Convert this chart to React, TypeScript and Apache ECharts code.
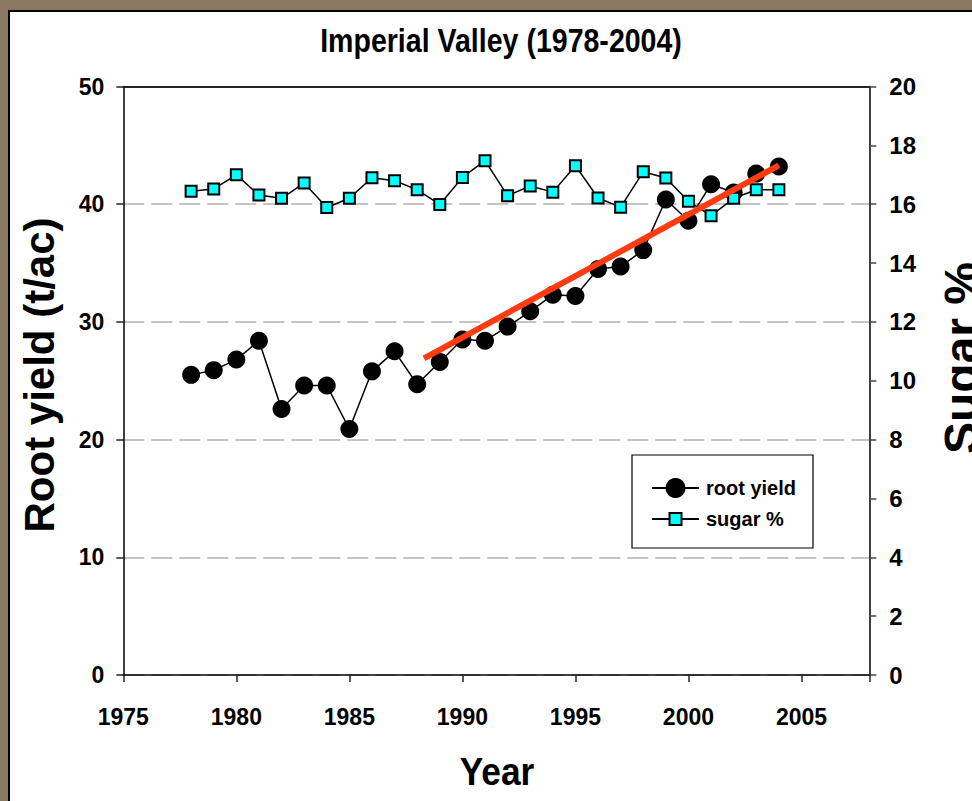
import React, { useEffect, useRef } from "react";
import * as echarts from "echarts";

const years = [1978, 1979, 1980, 1981, 1982, 1983, 1984, 1985, 1986, 1987, 1988, 1989, 1990, 1991, 1992, 1993, 1994, 1995, 1996, 1997, 1998, 1999, 2000, 2001, 2002, 2003, 2004];
const rootYield = [25.5, 25.9, 26.8, 28.4, 22.6, 24.6, 24.6, 20.9, 25.8, 27.5, 24.7, 26.6, 28.5, 28.4, 29.6, 30.9, 32.3, 32.2, 34.5, 34.7, 36.1, 40.4, 38.6, 41.7, 41.0, 42.6, 43.2];
const sugarPct = [16.44, 16.52, 17.0, 16.31, 16.2, 16.72, 15.89, 16.2, 16.9, 16.8, 16.49, 15.99, 16.91, 17.48, 16.29, 16.62, 16.41, 17.31, 16.21, 15.9, 17.1, 16.89, 16.1, 15.61, 16.2, 16.49, 16.49];
const trendYears = [1988.3, 2004];
const trendValues = [26.9, 43.3];

const titleText = "Imperial Valley (1978-2004)";
const xName = "Year";
const yLeftName = "Root yield (t/ac)";
const yRightName = "Sugar %";
const seriesNames = ["root yield", "sugar %"];

const FONT = "'Liberation Sans', Arial, Helvetica, sans-serif";

export default function App() {
  const ref = useRef<HTMLDivElement>(null);
  useEffect(() => {
    if (!ref.current) return;
    const chart = echarts.init(ref.current, null, { renderer: "svg" });
    const rootData = years.map((y, i) => [y, rootYield[i]]);
    const sugarData = years.map((y, i) => [y, sugarPct[i]]);
    const trendData = trendYears.map((y, i) => [y, trendValues[i]]);
    const legendText = { fontFamily: FONT, fontWeight: "bold", fontSize: 20, color: "#000", padding: [0, 0, 0, 2] };
    chart.setOption({
      animation: false,
      backgroundColor: "#8a7862",
      graphic: [
        {
          type: "rect",
          z: -10,
          shape: { x: 9, y: 11, width: 990, height: 820 },
          style: { fill: "#fff", stroke: "#000", lineWidth: 2 },
        },
        {
          type: "rect",
          z: 5,
          shape: { x: 632, y: 455, width: 181, height: 93 },
          style: { fill: "#fff", stroke: "#000", lineWidth: 1.2 },
        },
        {
          type: "text",
          x: 501,
          y: 41,
          scaleX: 0.84,
          style: { text: titleText, fontFamily: FONT, fontWeight: "bold", fontSize: 34, fill: "#000", textAlign: "center", textVerticalAlign: "middle" },
        },
        {
          type: "text",
          x: 497,
          y: 772,
          scaleX: 0.93,
          style: { text: xName, fontFamily: FONT, fontWeight: "bold", fontSize: 38, fill: "#000", textAlign: "center", textVerticalAlign: "middle" },
        },
        {
          type: "text",
          x: 39,
          y: 375,
          rotation: Math.PI / 2,
          style: { text: yLeftName, fontFamily: FONT, fontWeight: "bold", fontSize: 42, fill: "#000", textAlign: "center", textVerticalAlign: "middle" },
        },
        {
          type: "text",
          x: 961,
          y: 358,
          rotation: Math.PI / 2,
          style: { text: yRightName, fontFamily: FONT, fontWeight: "bold", fontSize: 48, fill: "#000", textAlign: "center", textVerticalAlign: "middle" },
        },
      ],
      grid: {
        left: 123.3,
        top: 86.5,
        width: 746,
        height: 588.5,
        show: false,
      },
      legend: [
        {
          left: 646,
          top: 473,
          orient: "vertical",
          itemWidth: 47,
          itemHeight: 25,
          data: [seriesNames[0]],
          textStyle: legendText,
          z: 10,
        },
        {
          left: 646,
          top: 504,
          orient: "vertical",
          itemWidth: 47,
          itemHeight: 15,
          data: [seriesNames[1]],
          textStyle: legendText,
          z: 10,
        },
      ],
      xAxis: [
        {
          type: "value",
          min: 1975,
          max: 2008,
          interval: 5,
          position: "bottom",
          axisLine: { show: true, lineStyle: { color: "#000", width: 1.5 } },
          axisTick: { show: true, length: 7, lineStyle: { color: "#222", width: 1.5 } },
          splitLine: { show: false },
          axisLabel: {
            margin: 30,
            fontFamily: FONT,
            fontWeight: "bold",
            fontSize: 23,
            color: "#000",
            formatter: (v: number) => (v % 5 === 0 ? String(v) : ""),
          },
        },
        {
          type: "value",
          min: 1975,
          max: 2008,
          interval: 5,
          position: "top",
          axisLine: { show: true, onZero: false, lineStyle: { color: "#222", width: 2 } },
          axisTick: { show: false },
          axisLabel: { show: false },
          splitLine: { show: false },
        },
      ],
      yAxis: [
        {
          type: "value",
          min: 0,
          max: 50,
          interval: 10,
          position: "left",
          axisLine: { show: true, lineStyle: { color: "#000", width: 1.5 } },
          axisTick: { show: true, length: 7, lineStyle: { color: "#222", width: 1.5 } },
          splitLine: { show: true, lineStyle: { color: "#c4c4c4", width: 2, type: [21, 7] } },
          axisLabel: { margin: 19, fontFamily: FONT, fontWeight: "bold", fontSize: 23, color: "#000" },
        },
        {
          type: "value",
          min: 0,
          max: 20,
          interval: 2,
          position: "right",
          axisLine: { show: true, lineStyle: { color: "#000", width: 1.5 } },
          axisTick: { show: true, length: 7, lineStyle: { color: "#444", width: 1.5 } },
          splitLine: { show: false },
          axisLabel: { margin: 20, fontFamily: FONT, fontWeight: "bold", fontSize: 24, color: "#000" },
        },
      ],
      series: [
        {
          name: seriesNames[0],
          type: "line",
          xAxisIndex: 0,
          yAxisIndex: 0,
          data: rootData,
          symbol: "circle",
          symbolSize: 18,
          itemStyle: { color: "#000" },
          lineStyle: { color: "#000", width: 1.5 },
          z: 3,
        },
        {
          name: seriesNames[1],
          type: "line",
          xAxisIndex: 0,
          yAxisIndex: 1,
          data: sugarData,
          symbol: "rect",
          symbolSize: 11,
          itemStyle: { color: "#00ffff", borderColor: "#000", borderWidth: 2 },
          lineStyle: { color: "#000", width: 1.5 },
          z: 4,
        },
        {
          name: "trend",
          type: "line",
          xAxisIndex: 0,
          yAxisIndex: 0,
          data: trendData,
          symbol: "none",
          lineStyle: { color: "#ff3b0f", width: 6 },
          z: 5,
        },
      ],
    });
    return () => chart.dispose();
  }, []);
  return <div ref={ref} style={{ position: "absolute", left: 0, top: 0, width: 972, height: 801 }} />;
}
